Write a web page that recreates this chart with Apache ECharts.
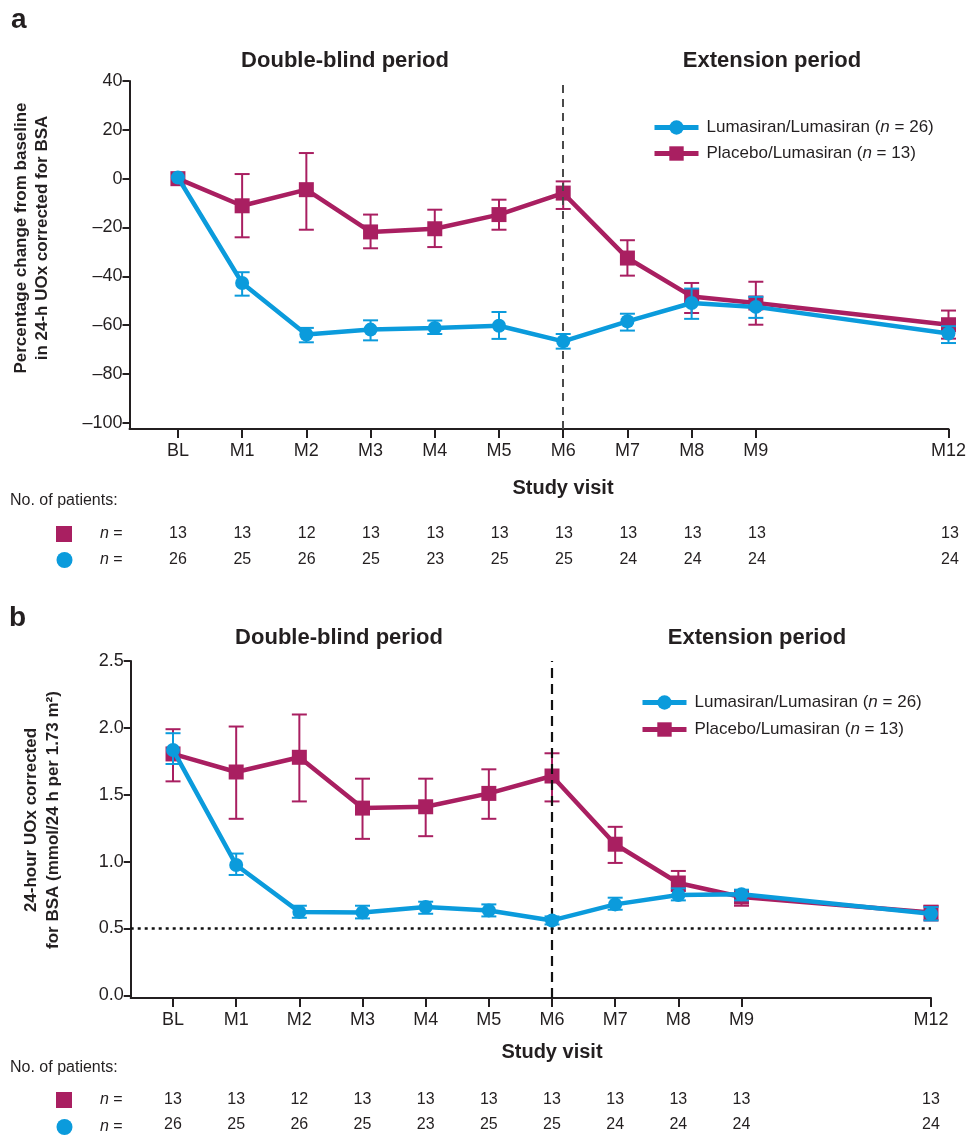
<!DOCTYPE html>
<html><head><meta charset="utf-8">
<script src="https://cdn.jsdelivr.net/npm/echarts@6/dist/echarts.min.js"></script>
<style>html,body{margin:0;padding:0;background:#fff}#c{width:969px;height:1137px}</style>
</head><body><div id="c"></div>
<script>
// ---------- data ----------
const visitMonths = [0, 1, 2, 3, 4, 5, 6, 7, 8, 9, 12];
const visitLabels = ['BL', 'M1', 'M2', 'M3', 'M4', 'M5', 'M6', 'M7', 'M8', 'M9', 'M12'];
const seriesNames = ['Lumasiran/Lumasiran', 'Placebo/Lumasiran'];
const legendN = [26, 13];

// Panel a: percentage change from baseline
const aLumaMean = [0.5, -42.7, -63.8, -61.8, -61.1, -60.2, -66.6, -58.4, -50.9, -52.5, -63.4];
const aLumaLow  = [null, -47.9, -67.0, -66.2, -63.6, -65.6, -69.6, -62.2, -57.4, -57.0, -67.3];
const aLumaHigh = [null, -38.3, -61.1, -58.0, -58.1, -54.6, -63.6, -55.3, -45.0, -48.4, -60.4];
const aPlacMean = [0, -11.1, -4.5, -21.8, -20.5, -14.7, -5.9, -32.5, -48.2, -50.9, -59.8];
const aPlacLow  = [null, -24.0, -20.9, -28.5, -28.0, -20.9, -12.4, -39.7, -55.0, -59.8, -65.5];
const aPlacHigh = [null, 1.9, 10.5, -14.7, -12.7, -8.6, -1.1, -25.2, -42.7, -42.2, -54.0];

// Panel b: 24-hour UOx
const bLumaMean = [1.835, 0.975, 0.624, 0.62, 0.66, 0.635, 0.56, 0.68, 0.75, 0.755, 0.61];
const bLumaLow  = [1.73, 0.90, 0.58, 0.575, 0.61, 0.59, 0.53, 0.64, 0.71, 0.71, 0.56];
const bLumaHigh = [1.96, 1.06, 0.67, 0.67, 0.70, 0.68, 0.59, 0.73, 0.80, 0.79, 0.66];
const bPlacMean = [1.805, 1.67, 1.78, 1.40, 1.41, 1.51, 1.64, 1.13, 0.84, 0.735, 0.62];
const bPlacLow  = [1.60, 1.32, 1.45, 1.17, 1.19, 1.32, 1.45, 0.99, 0.78, 0.67, 0.56];
const bPlacHigh = [1.99, 2.01, 2.10, 1.62, 1.62, 1.69, 1.81, 1.26, 0.93, 0.78, 0.67];

// Number of patients
const nPlacebo = [13, 13, 12, 13, 13, 13, 13, 13, 13, 13, 13];
const nLuma    = [26, 25, 26, 25, 23, 25, 25, 24, 24, 24, 24];

const aYTicks = [-100, -80, -60, -40, -20, 0, 20, 40];
const bYTicks = [0, 0.5, 1.0, 1.5, 2.0, 2.5];

// ---------- styling ----------
const FONT = '"Liberation Sans", Arial, Helvetica, sans-serif';
const BLUE = '#0b9bdc';
const MAG = '#a91f61';
const INK = '#231f20';

const chart = echarts.init(document.getElementById('c'), null, {renderer: 'canvas'});

function mkX(gi, min) {
  return {
    type: 'value', gridIndex: gi, min: min, max: 12,
    axisLine: {show: true, onZero: false, lineStyle: {color: INK, width: 2}},
    axisTick: {show: true, customValues: visitMonths, length: 9, lineStyle: {color: INK, width: 2}},
    axisLabel: {customValues: visitMonths, color: INK, fontSize: 18, fontFamily: FONT, margin: 13,
      formatter: v => visitLabels[visitMonths.indexOf(v)]},
    splitLine: {show: false}
  };
}
function mkY(gi, min, max, ticks, fmt) {
  return {
    type: 'value', gridIndex: gi, min: min, max: max,
    axisLine: {show: true, onZero: false, lineStyle: {color: INK, width: 2}},
    axisTick: {show: true, customValues: ticks, length: 7, lineStyle: {color: INK, width: 2}},
    axisLabel: {customValues: ticks, color: INK, fontSize: 18, fontFamily: FONT, margin: 7, formatter: fmt},
    splitLine: {show: false}
  };
}
function errSeries(name, xi, months, lo, hi, color, z) {
  const data = months.map((m, i) => [m, lo[i], hi[i]]).filter(d => d[1] != null);
  return {
    type: 'custom', name: name, xAxisIndex: xi, yAxisIndex: xi, z: z, silent: true, clip: false,
    encode: {x: 0, y: [1, 2]},
    renderItem: function (params, api) {
      const x = api.value(0);
      const p1 = api.coord([x, api.value(1)]);
      const p2 = api.coord([x, api.value(2)]);
      const w = 7.5;
      const st = {stroke: color, lineWidth: 2};
      return {type: 'group', children: [
        {type: 'line', shape: {x1: p1[0], y1: p1[1], x2: p2[0], y2: p2[1]}, style: st},
        {type: 'line', shape: {x1: p1[0] - w, y1: p1[1], x2: p1[0] + w, y2: p1[1]}, style: st},
        {type: 'line', shape: {x1: p2[0] - w, y1: p2[1], x2: p2[0] + w, y2: p2[1]}, style: st}
      ]};
    },
    data: data
  };
}
function lineSeries(name, xi, mean, color, symbol, size, z) {
  return {
    type: 'line', name: name, xAxisIndex: xi, yAxisIndex: xi, z: z,
    data: visitMonths.map((m, i) => [m, mean[i]]),
    symbol: symbol, symbolSize: size, showSymbol: true,
    lineStyle: {color: color, width: 4.5},
    itemStyle: {color: color, borderWidth: 0},
    emphasis: {disabled: true}, silent: true
  };
}
function tableSeries(xi, nArr, row) {
  return {
    type: 'custom', xAxisIndex: xi, yAxisIndex: xi, silent: true, clip: false,
    encode: {x: 0, y: 1},
    renderItem: function (params, api) {
      const p = api.coord([api.value(0), api.value(1)]);
      return {type: 'text', x: p[0], y: p[1], style: {
        text: String(api.value(2)), align: 'center', verticalAlign: 'middle',
        fontSize: 16, fontFamily: FONT, fill: INK}};
    },
    data: visitMonths.map((m, i) => [m, row, nArr[i]])
  };
}
function markSeries(xi, lines) {
  return {
    type: 'line', xAxisIndex: xi, yAxisIndex: xi, data: [], z: 1, silent: true,
    markLine: {silent: true, symbol: 'none', label: {show: false}, animation: false, data: lines}
  };
}
function legendFor(left, top, gap) {
  return {
    orient: 'vertical', left: left, top: top, padding: 0, itemWidth: 44, itemHeight: 18, itemGap: gap,
    data: seriesNames, selectedMode: false,
    lineStyle: {width: 5},
    formatter: name => name + ' ({i|n} = ' + legendN[seriesNames.indexOf(name)] + ')',
    textStyle: {fontSize: 17, fontFamily: FONT, color: INK, padding: [0, 0, 0, 3],
      rich: {i: {fontStyle: 'italic', fontSize: 17, fontFamily: FONT, color: INK}}}
  };
}
function txt(x, y, text, opts) {
  return Object.assign({type: 'text', x: x, y: y, silent: true,
    style: Object.assign({text: text, fontFamily: FONT, fill: INK, align: 'left', verticalAlign: 'middle'}, opts || {})});
}
function rowMarkers(y1, y2) {
  return [
    {type: 'rect', shape: {x: 56, y: y1 - 8, width: 16, height: 16}, style: {fill: MAG}, silent: true},
    {type: 'circle', shape: {cx: 64.5, cy: y2, r: 8}, style: {fill: BLUE}, silent: true},
    txt(100, y1, '{i|n} =', {fontSize: 16, rich: {i: {fontStyle: 'italic', fontSize: 16, fontFamily: FONT}}}),
    txt(100, y2, '{i|n} =', {fontSize: 16, rich: {i: {fontStyle: 'italic', fontSize: 16, fontFamily: FONT}}})
  ];
}

const option = {
  backgroundColor: '#fff',
  animation: false,
  grid: [
    {left: 129.5, top: 81, width: 820.5, height: 348},
    {left: 130.7, top: 661, width: 800.3, height: 337},
    {left: 129.5, top: 521, width: 820.5, height: 52},
    {left: 130.7, top: 1086.5, width: 800.3, height: 54}
  ],
  xAxis: [
    mkX(0, -0.754),
    mkX(1, -0.67),
    {type: 'value', gridIndex: 2, min: -0.754, max: 12, show: false},
    {type: 'value', gridIndex: 3, min: -0.67, max: 12, show: false}
  ],
  yAxis: [
    mkY(0, -102.5, 40, aYTicks, v => String(v).replace('-', '\u2013')),
    mkY(1, -0.02, 2.5, bYTicks, v => v.toFixed(1)),
    {type: 'category', gridIndex: 2, data: ['placebo', 'lumasiran'], inverse: true, show: false},
    {type: 'category', gridIndex: 3, data: ['placebo', 'lumasiran'], inverse: true, show: false}
  ],
  legend: [legendFor(652, 119, 9), legendFor(640, 694, 10)],
  series: [
    markSeries(0, [{xAxis: 6, lineStyle: {color: '#4a4a4a', width: 2, type: [8, 6]}}]),
    markSeries(1, [
      {xAxis: 6, lineStyle: {color: '#111', width: 2.2, type: [10, 6]}},
      {yAxis: 0.5, lineStyle: {color: '#111', width: 2.5, type: [3, 4]}}
    ]),
    errSeries('errPa', 0, visitMonths, aPlacLow, aPlacHigh, MAG, 2),
    lineSeries(seriesNames[1], 0, aPlacMean, MAG, 'rect', 15, 3),
    errSeries('errLa', 0, visitMonths, aLumaLow, aLumaHigh, BLUE, 4),
    lineSeries(seriesNames[0], 0, aLumaMean, BLUE, 'circle', 14, 5),
    errSeries('errPb', 1, visitMonths, bPlacLow, bPlacHigh, MAG, 2),
    lineSeries(seriesNames[1], 1, bPlacMean, MAG, 'rect', 15, 3),
    errSeries('errLb', 1, visitMonths, bLumaLow, bLumaHigh, BLUE, 4),
    lineSeries(seriesNames[0], 1, bLumaMean, BLUE, 'circle', 14, 5),
    tableSeries(2, nPlacebo, 0),
    tableSeries(2, nLuma, 1),
    tableSeries(3, nPlacebo, 0),
    tableSeries(3, nLuma, 1)
  ],
  graphic: [
    txt(11, 20, 'a', {fontSize: 28, fontWeight: 'bold'}),
    txt(9, 618, 'b', {fontSize: 28, fontWeight: 'bold'}),
    txt(345, 61, 'Double-blind period', {fontSize: 22, fontWeight: 'bold', align: 'center'}),
    txt(772, 61, 'Extension period', {fontSize: 22, fontWeight: 'bold', align: 'center'}),
    txt(339, 638, 'Double-blind period', {fontSize: 22, fontWeight: 'bold', align: 'center'}),
    txt(757, 638, 'Extension period', {fontSize: 22, fontWeight: 'bold', align: 'center'}),
    txt(563, 488, 'Study visit', {fontSize: 20, fontWeight: 'bold', align: 'center'}),
    txt(552, 1052, 'Study visit', {fontSize: 20, fontWeight: 'bold', align: 'center'}),
    txt(10, 501, 'No. of patients:', {fontSize: 16}),
    txt(10, 1068, 'No. of patients:', {fontSize: 16}),
    Object.assign(txt(32, 238, 'Percentage change from baseline\nin 24-h UOx corrected for BSA',
      {fontSize: 17, fontWeight: 'bold', align: 'center', lineHeight: 21}), {rotation: Math.PI / 2}),
    Object.assign(txt(42, 820, '24-hour UOx corrected\nfor BSA (mmol/24 h per 1.73 m\u00B2)',
      {fontSize: 17, fontWeight: 'bold', align: 'center', lineHeight: 22}), {rotation: Math.PI / 2})
  ].concat(rowMarkers(534, 560), rowMarkers(1100, 1127))
};
chart.setOption(option);
</script>
</body></html>
